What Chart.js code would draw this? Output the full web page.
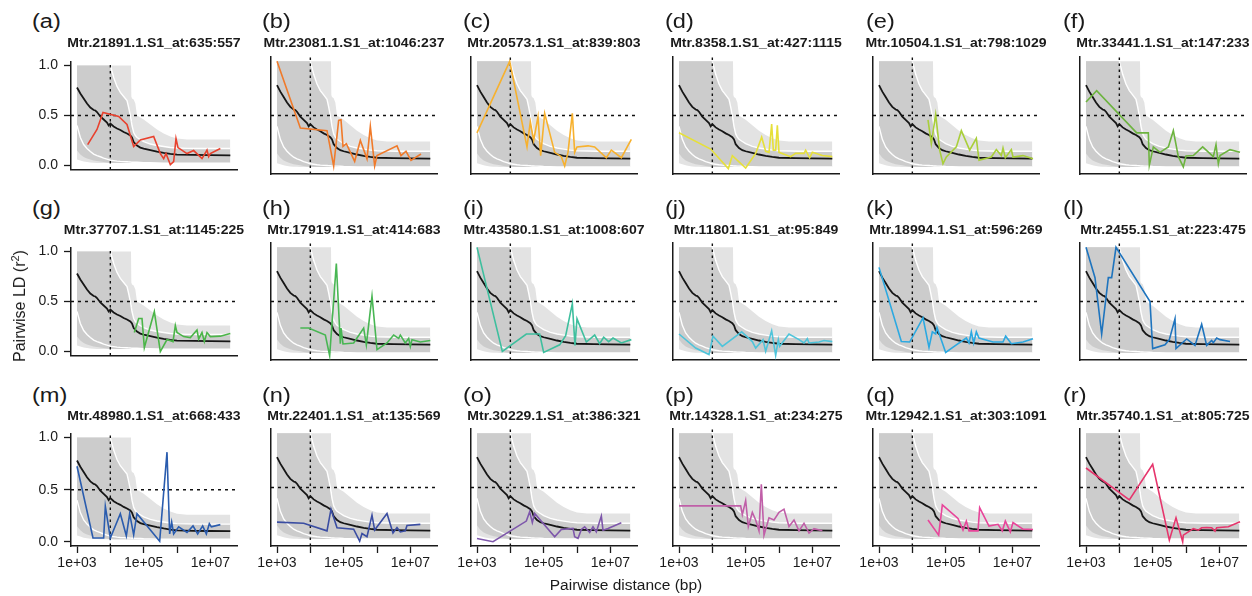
<!DOCTYPE html>
<html><head><meta charset="utf-8">
<script src="https://cdn.jsdelivr.net/npm/chart.js@4.4.1/dist/chart.umd.min.js"></script>
<style>
html,body{margin:0;padding:0;background:#fff;width:1252px;height:596px;overflow:hidden;font-family:"Liberation Sans",Arial,sans-serif;color:#1a1a1a}
.pc{position:absolute}
.lab{position:absolute;font-size:20px;line-height:20px;transform:scaleX(1.18);transform-origin:0 0;white-space:nowrap}
.ttl{position:absolute;font-size:12px;line-height:12px;font-weight:bold;white-space:nowrap;width:300px;text-align:center;transform:scaleX(1.17)}
.axt{position:absolute;white-space:nowrap;transform:translate(-50%,-50%)}
</style></head><body>
<script>
// ---------------- DATA ----------------
const panelLetters = ['(a)','(b)','(c)','(d)','(e)','(f)','(g)','(h)','(i)','(j)','(k)','(l)','(m)','(n)','(o)','(p)','(q)','(r)'];
const panelTitles = [
 'Mtr.21891.1.S1_at:635:557','Mtr.23081.1.S1_at:1046:237','Mtr.20573.1.S1_at:839:803',
 'Mtr.8358.1.S1_at:427:1115','Mtr.10504.1.S1_at:798:1029','Mtr.33441.1.S1_at:147:233',
 'Mtr.37707.1.S1_at:1145:225','Mtr.17919.1.S1_at:414:683','Mtr.43580.1.S1_at:1008:607',
 'Mtr.11801.1.S1_at:95:849','Mtr.18994.1.S1_at:596:269','Mtr.2455.1.S1_at:223:475',
 'Mtr.48980.1.S1_at:668:433','Mtr.22401.1.S1_at:135:569','Mtr.30229.1.S1_at:386:321',
 'Mtr.14328.1.S1_at:234:275','Mtr.12942.1.S1_at:303:1091','Mtr.35740.1.S1_at:805:725'];
const lineColors = ['#E8412E','#F07A2A','#F7B12E','#E6E03A','#A9CF3A','#6DB43F',
 '#4BB548','#48B653','#3EBF9E','#4EC4DA','#2CA9E1','#1E74BE',
 '#2A5CAE','#3A4DA2','#7E57AB','#C05FA8','#E8459A','#E6356C'];

const xTickValues = [1e3,1e4,1e5,1e6,1e7];
const xTickLabels = ['1e+03','','1e+05','','1e+07'];
const yTickValues = [0,0.5,1];
const yTickLabels = ['0.0','0.5','1.0'];

// genome-wide background distribution (log10 distance grid)
const bgLog10Dist = [3.0,3.1,3.2,3.3,3.4,3.5,3.6,3.7,3.8,3.9,4.0,4.1,4.2,4.3,4.4,4.5,4.55,4.6,4.62,4.63,4.65,4.7,4.75,4.8,4.9,5.0,5.2,5.4,5.6,5.8,6.0,6.3,6.6,7.0,7.3,7.6];
const bgLightUpper = [1,1,1,1,1,1,1,1,1,1,1,1,1,1,1,1,1,1,1,0.69,0.67,0.66,0.62,0.5,0.48,0.46,0.41,0.36,0.32,0.29,0.27,0.26,0.26,0.26,0.26,0.26];
const bgLightLower = [0.06,0.05,0.04,0.035,0.03,0.028,0.026,0.025,0.025,0.025,0.025,0.025,0.025,0.025,0.025,0.025,0.025,0.025,0.025,0.025,0.025,0.025,0.025,0.025,0.025,0.025,0.025,0.025,0.025,0.025,0.025,0.025,0.025,0.025,0.025,0.025];
const bgDarkUpper = [1,1,1,1,1,1,1,1,1,1,1,0.88,0.79,0.73,0.69,0.65,0.58,0.5,0.46,0.44,0.4,0.33,0.3,0.28,0.26,0.24,0.215,0.2,0.19,0.18,0.175,0.172,0.17,0.17,0.17,0.17];
const bgDarkLower = [0.15,0.11,0.085,0.07,0.06,0.05,0.045,0.04,0.035,0.03,0.027,0.025,0.025,0.025,0.025,0.025,0.025,0.025,0.025,0.025,0.025,0.025,0.025,0.025,0.025,0.025,0.025,0.025,0.025,0.025,0.025,0.025,0.025,0.025,0.025,0.025];
const bgWhiteLower = [0.4,0.28,0.21,0.17,0.14,0.115,0.1,0.088,0.075,0.065,0.055,0.05,0.045,0.042,0.04,0.038,0.037,0.036,0.035,0.035,0.034,0.034,0.033,0.033,0.032,0.03,0.028,0.026,0.025,0.025,0.025,0.025,0.025,0.025,0.025,0.025];
const whiteUpperStart = 10; // upper white line drawn from 1e4 on (same as dark upper edge)

// genome-wide median LD decay  [log10 distance, r2]
const medianLD = [[3.0,0.78],[3.1,0.72],[3.2,0.67],[3.3,0.62],[3.4,0.58],[3.5,0.555],[3.55,0.55],[3.6,0.535],[3.7,0.49],[3.8,0.46],[3.9,0.43],[3.95,0.40],[4.0,0.42],[4.1,0.39],[4.2,0.37],[4.3,0.355],[4.4,0.335],[4.5,0.32],[4.6,0.30],[4.65,0.28],[4.7,0.235],[4.8,0.2],[4.9,0.18],[5.0,0.17],[5.2,0.155],[5.4,0.14],[5.6,0.128],[5.8,0.118],[6.0,0.11],[6.5,0.106],[7.0,0.104],[7.6,0.102]];

// per-gene LD  [log10 distance, r2]
const lineA = [[3.32,0.21],[3.6,0.36],[3.78,0.53],[4.25,0.49],[4.5,0.41],[4.7,0.19],[4.9,0.255],[5.3,0.29],[5.5,0.12],[5.6,0.07],[5.67,0.12],[5.8,0.01],[5.9,0.04],[5.97,0.27],[6.03,0.18],[6.3,0.12],[6.5,0.15],[6.75,0.07],[6.9,0.155],[6.95,0.09],[7.0,0.12],[7.3,0.17]];
const lineB = [[3.0,1.0],[3.7,0.385],[4.5,0.36],[4.7,0.034],[4.85,0.455],[4.92,0.46],[4.98,0.215],[5.08,0.24],[5.33,0.077],[5.5,0.27],[5.7,0.1],[5.8,0.4],[5.93,0.034],[6.0,0.13],[6.6,0.22],[6.72,0.13],[6.87,0.17],[7.02,0.086],[7.32,0.145]];
const lineC = [[3.0,0.34],[3.98,1.0],[4.5,0.21],[4.6,0.44],[4.7,0.27],[4.83,0.49],[4.91,0.13],[5.03,0.52],[5.33,0.16],[5.53,0.12],[5.63,0.034],[5.73,0.16],[5.86,0.52],[5.93,0.16],[6.0,0.21],[6.33,0.22],[6.53,0.21],[6.88,0.11],[7.03,0.18],[7.33,0.11],[7.63,0.28]];
const lineD = [[3.0,0.34],[3.95,0.19],[4.48,0.01],[4.6,0.13],[5.0,0.015],[5.3,0.15],[5.48,0.3],[5.6,0.17],[5.7,0.16],[5.78,0.42],[5.83,0.18],[5.9,0.18],[5.95,0.41],[6.0,0.16],[6.35,0.12],[6.5,0.15],[6.75,0.15],[6.8,0.18],[6.92,0.11],[7.0,0.16],[7.3,0.13],[7.6,0.12]];
const lineE = [[4.47,0.46],[4.57,0.24],[4.7,0.51],[4.82,0.18],[4.92,0.055],[5.02,0.117],[5.32,0.21],[5.47,0.36],[5.72,0.18],[5.92,0.29],[6.0,0.086],[6.37,0.117],[6.52,0.185],[6.67,0.13],[6.72,0.2],[6.79,0.11],[6.97,0.185],[7.02,0.117],[7.32,0.13],[7.62,0.1]];
const lineF = [[3.0,0.625],[3.32,0.73],[4.52,0.34],[4.87,0.34],[4.9,0.04],[5.02,0.21],[5.22,0.16],[5.47,0.21],[5.62,0.36],[5.77,0.12],[5.92,0.025],[6.0,0.126],[6.22,0.13],[6.5,0.21],[6.82,0.12],[6.9,0.23],[6.97,0.055],[7.02,0.13],[7.32,0.185],[7.62,0.16]];
const lineG = [[4.72,0.19],[4.85,0.33],[4.95,0.33],[5.02,0.04],[5.32,0.40],[5.5,0.0],[5.7,0.12],[5.88,0.1],[5.95,0.26],[6.0,0.19],[6.2,0.15],[6.4,0.14],[6.6,0.215],[6.65,0.126],[6.75,0.19],[6.82,0.1],[6.9,0.19],[7.0,0.15],[7.3,0.154],[7.6,0.18]];
const lineH = [[3.7,0.255],[3.95,0.255],[4.45,0.19],[4.58,0.0],[4.78,0.85],[4.9,0.11],[4.92,0.255],[4.98,0.108],[5.3,0.117],[5.6,0.255],[5.68,0.1],[5.85,0.55],[6.0,0.055],[6.3,0.117],[6.5,0.19],[6.65,0.16],[6.7,0.19],[6.85,0.117],[6.95,0.16],[7.0,0.086],[7.05,0.148],[7.3,0.126],[7.6,0.14]];
const lineI = [[3.0,1.0],[3.76,0.04],[4.48,0.2],[4.88,0.2],[5.0,0.03],[5.48,0.1],[5.66,0.185],[5.86,0.48],[5.94,0.095],[6.0,0.34],[6.28,0.126],[6.53,0.19],[6.68,0.11],[6.8,0.17],[6.95,0.13],[7.08,0.163],[7.33,0.117],[7.63,0.148]];
const lineJ = [[3.0,0.2],[3.5,0.07],[3.9,0.01],[4.02,0.18],[4.3,0.086],[4.88,0.22],[5.2,0.13],[5.3,0.07],[5.52,0.148],[5.6,0.04],[5.78,0.23],[5.9,0.003],[5.98,0.148],[6.02,0.086],[6.3,0.2],[6.6,0.148],[6.75,0.117],[6.85,0.157],[6.9,0.117],[7.2,0.126],[7.35,0.14],[7.6,0.13]];
const lineK = [[3.0,0.815],[3.67,0.13],[3.92,0.126],[4.32,0.35],[4.5,0.077],[4.6,0.22],[4.7,0.2],[4.74,0.26],[5.0,0.03],[5.32,0.1],[5.62,0.163],[5.7,0.117],[5.77,0.22],[5.84,0.117],[5.92,0.22],[6.0,0.163],[6.42,0.126],[6.72,0.126],[6.8,0.18],[6.97,0.11],[7.32,0.126],[7.62,0.157]];
const lineL = [[3.0,1.0],[3.27,0.72],[3.47,0.2],[3.67,0.72],[3.77,0.72],[3.9,1.0],[4.92,0.5],[5.0,0.065],[5.37,0.1],[5.5,0.148],[5.67,0.34],[5.7,0.065],[6.02,0.154],[6.27,0.095],[6.47,0.29],[6.62,0.095],[6.77,0.14],[6.82,0.12],[6.92,0.163],[7.02,0.148],[7.32,0.13]];
const lineM = [[3.0,0.725],[3.48,0.037],[3.8,0.037],[3.85,0.34],[4.0,0.037],[4.3,0.27],[4.48,0.058],[4.58,0.27],[4.7,0.067],[4.8,0.27],[5.48,0.006],[5.7,0.86],[5.78,0.076],[5.84,0.19],[5.9,0.076],[6.05,0.144],[6.3,0.09],[6.48,0.153],[6.62,0.076],[6.77,0.153],[6.88,0.076],[6.97,0.174],[7.03,0.144],[7.3,0.165]];
const lineN = [[3.0,0.18],[3.8,0.17],[4.5,0.1],[4.62,0.3],[4.8,0.128],[5.3,0.115],[5.48,0.005],[5.55,0.075],[5.7,0.045],[5.85,0.245],[5.93,0.107],[6.3,0.26],[6.48,0.08],[6.6,0.13],[6.7,0.09],[6.85,0.1],[6.9,0.15],[7.3,0.16]];
const lineO = [[3.0,0.03],[3.48,0.0],[4.48,0.19],[4.58,0.276],[4.66,0.177],[4.73,0.26],[5.33,0.045],[5.53,0.113],[5.88,0.122],[5.93,0.045],[6.03,0.03],[6.13,0.113],[6.23,0.137],[6.38,0.085],[6.48,0.137],[6.58,0.09],[6.73,0.236],[6.78,0.106],[6.93,0.122],[7.33,0.174]];
const lineP = [[3.0,0.33],[4.5,0.33],[4.85,0.33],[4.9,0.25],[5.0,0.38],[5.08,0.14],[5.2,0.27],[5.3,0.2],[5.4,0.1],[5.47,0.53],[5.55,0.06],[5.7,0.22],[5.85,0.2],[6.0,0.27],[6.15,0.3],[6.3,0.14],[6.45,0.2],[6.6,0.1],[6.75,0.17],[6.9,0.08],[7.05,0.12],[7.3,0.1]];
const lineQ = [[4.47,0.2],[4.79,0.06],[4.9,0.34],[5.37,0.215],[5.52,0.106],[5.62,0.19],[5.7,0.1],[5.97,0.1],[6.02,0.313],[6.3,0.144],[6.57,0.16],[6.7,0.1],[6.79,0.19],[6.94,0.09],[7.02,0.176],[7.32,0.116],[7.62,0.113]];
const lineR = [[3.0,0.68],[4.3,0.385],[5.0,0.715],[5.5,0.014],[5.7,0.22],[5.9,0.0],[5.92,0.06],[6.22,0.12],[6.37,0.106],[6.47,0.128],[6.62,0.131],[6.77,0.128],[6.87,0.097],[6.92,0.128],[7.27,0.137],[7.62,0.184]];
const geneLines = [lineA,lineB,lineC,lineD,lineE,lineF,lineG,lineH,lineI,lineJ,lineK,lineL,lineM,lineN,lineO,lineP,lineQ,lineR];

// reference lines
const refDistance = 1e4;
const refR2 = 0.5;

// ---------------- LAYOUT ----------------
const colPlotLeft = [71,271,471,673,873,1080];
const rowPlotTop = [57,243,429];
const PW = 166, PH = 117;
const letterLeft = [32,262,463,665,866,1063];
const letterMidY = [22.4,209.5,396.5];
const titleMidY = [43.3,229.5,415.8];
const X_MIN = Math.pow(10,2.82), X_MAX = Math.pow(10,7.8);
const Y_MIN = -0.04, Y_MAX = 1.04;
const FONT = '"Liberation Sans", Arial, sans-serif';
Chart.defaults.font.family = FONT;

const toPts = arr => arr.map(p => ({x: Math.pow(10,p[0]), y: p[1]}));
const bgX = bgLog10Dist.map(l => Math.pow(10,l));
const bandPts = vals => vals.map((v,k) => ({x: bgX[k], y: v}));

function addDiv(cls, text, css){
  const d = document.createElement('div'); d.className = cls; d.innerHTML = text;
  Object.assign(d.style, css); document.body.appendChild(d); return d;
}

function makePanel(i){
  const col = i % 6, row = Math.floor(i / 6);
  const padL = col === 0 ? 64 : 30, padR = 25, padT = 10, padB = row === 2 ? 34 : 10;
  const W = padL + PW + padR, H = padT + PH + padB;
  const wrap = document.createElement('div'); wrap.className = 'pc';
  wrap.style.left = (colPlotLeft[col] - padL) + 'px';
  wrap.style.top = (rowPlotTop[row] - padT) + 'px';
  wrap.style.width = W + 'px'; wrap.style.height = H + 'px';
  const cv = document.createElement('canvas');
  cv.width = W; cv.height = H; cv.style.width = W + 'px'; cv.style.height = H + 'px';
  wrap.appendChild(cv); document.body.appendChild(wrap);

  addDiv('lab', panelLetters[i], {left: letterLeft[col] + 'px', top: (letterMidY[row] - 11.7) + 'px'});
  addDiv('ttl', panelTitles[i], {left: (colPlotLeft[col] + PW/2 - 150) + 'px', top: (titleMidY[row] - 5.9) + 'px'});

  const none = 'rgba(0,0,0,0)';
  const whiteUp = bandPts(bgDarkUpper).slice(whiteUpperStart);
  const datasets = [
    {data: toPts(geneLines[i]), borderColor: lineColors[i], borderWidth: 1.6, fill: false},
    {data: toPts(medianLD), borderColor: '#161616', borderWidth: 1.8, fill: false},
    {data: [{x: refDistance, y: Y_MIN}, {x: refDistance, y: Y_MAX}], borderColor: '#111', borderWidth: 1.4, borderDash: [2.5,3.5], fill: false},
    {data: [{x: X_MIN, y: refR2}, {x: X_MAX, y: refR2}], borderColor: '#111', borderWidth: 1.4, borderDash: [3,4], fill: false},
    {data: whiteUp, borderColor: '#ffffff', borderWidth: 1.4, fill: false},
    {data: bandPts(bgWhiteLower), borderColor: '#ffffff', borderWidth: 1.4, fill: false},
    {data: bandPts(bgDarkUpper), borderColor: none, borderWidth: 0, backgroundColor: '#cccccc', fill: '+1'},
    {data: bandPts(bgDarkLower), borderColor: none, borderWidth: 0, fill: false},
    {data: bandPts(bgLightUpper), borderColor: none, borderWidth: 0, backgroundColor: '#e3e3e3', fill: '+1'},
    {data: bandPts(bgLightLower), borderColor: none, borderWidth: 0, fill: false}
  ];
  datasets.forEach(d => { d.pointRadius = 0; d.tension = 0; });

  new Chart(cv, {
    type: 'line',
    data: {datasets},
    options: {
      responsive: false, animation: false, devicePixelRatio: 1, events: [],
      layout: {padding: {left: 0, right: padR, top: padT, bottom: 0}},
      plugins: {legend: {display: false}, tooltip: {enabled: false}, title: {display: false}},
      scales: {
        x: {
          type: 'logarithmic', min: X_MIN, max: X_MAX, bounds: 'data',
          afterFit: s => { s.height = padB; },
          afterBuildTicks: s => { s.ticks = xTickValues.map(v => ({value: v})); },
          ticks: {display: row === 2, autoSkip: false, maxRotation: 0, padding: 2, color: '#1a1a1a',
                  font: {size: 14, family: FONT}, callback: (v, idx) => xTickLabels[idx]},
          grid: {display: row === 2, drawOnChartArea: false, drawTicks: true, tickLength: 7, tickWidth: 1.3, tickColor: '#1a1a1a'},
          border: {display: true, color: '#1a1a1a', width: 1.5}
        },
        y: {
          type: 'linear', min: Y_MIN, max: Y_MAX, bounds: 'data',
          afterFit: s => { s.width = padL; },
          afterBuildTicks: s => { s.ticks = yTickValues.map(v => ({value: v})); },
          ticks: {display: col === 0, autoSkip: false, padding: 6, color: '#1a1a1a',
                  font: {size: 14, family: FONT}, callback: (v, idx) => yTickLabels[idx]},
          grid: {display: col === 0, drawOnChartArea: false, drawTicks: true, tickLength: 7, tickWidth: 1.3, tickColor: '#1a1a1a'},
          border: {display: true, color: '#1a1a1a', width: 1.5}
        }
      }
    }
  });
}

for (let i = 0; i < 18; i++) makePanel(i);

addDiv('axt', 'Pairwise LD (r<sup style="font-size:11px;line-height:0">2</sup>)',
  {left: '20px', top: '306px', fontSize: '16px', transform: 'translate(-50%,-50%) rotate(-90deg)'});
addDiv('axt', 'Pairwise distance (bp)', {left: '626px', top: '585px', fontSize: '15.5px'});
</script>
</body></html>
